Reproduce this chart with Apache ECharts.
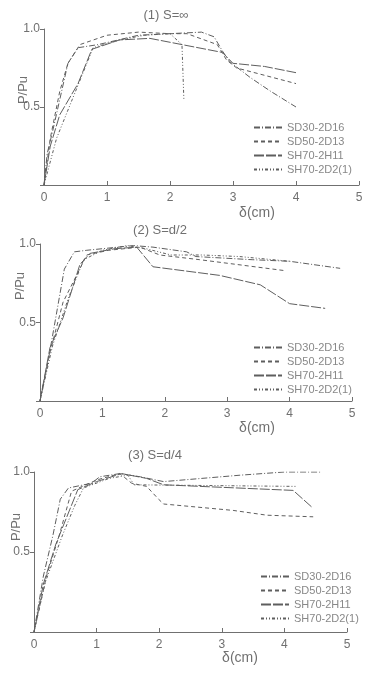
<!DOCTYPE html>
<html>
<head>
<meta charset="utf-8">
<script src="https://cdn.jsdelivr.net/npm/echarts@6/dist/echarts.min.js"></script>
<style>
  html, body { margin: 0; padding: 0; background: #fff; }
  #main { width: 366px; height: 677px; }
</style>
</head>
<body>
<div id="main"></div>
<script>
// 试件名称
const seriesNames = ['SD30-2D16', 'SD50-2D13', 'SH70-2H11', 'SH70-2D2(1)'];
const panelTitles = ['(1) S=∞', '(2) S=d/2', '(3) S=d/4'];
const xTicks = [0, 1, 2, 3, 4, 5];
const yTicks = [0, 0.5, 1.0];

// (1) S=∞  [δ(cm), P/Pu]
const inf_SD30 = [[0,0],[0.05,0.2],[0.14,0.35],[0.38,0.78],[0.54,0.88],[0.86,0.9],[1.5,0.96],[2.0,0.97],[2.5,0.98],[2.7,0.95],[2.83,0.86],[2.95,0.79],[3.27,0.69],[3.6,0.6],[4.0,0.5]];
const inf_SD50 = [[0,0],[0.1,0.3],[0.25,0.6],[0.38,0.78],[0.57,0.9],[1.0,0.96],[1.5,0.98],[2.0,0.97],[2.27,0.97],[2.75,0.9],[2.9,0.8],[3.06,0.75],[4.0,0.65]];
const inf_SH70a = [[0,0],[0.1,0.25],[0.25,0.45],[0.54,0.65],[0.76,0.87],[1.2,0.93],[1.68,0.94],[2.19,0.9],[2.83,0.85],[3.0,0.78],[3.5,0.76],[4.0,0.72]];
const inf_SH70b = [[0,0],[0.2,0.3],[0.45,0.55],[0.78,0.88],[1.2,0.93],[1.6,0.96],[2.0,0.97],[2.19,0.9],[2.22,0.55]];

// (2) S=d/2
const d2_SD30 = [[0,0],[0.15,0.3],[0.39,0.84],[0.55,0.95],[0.75,0.96],[1.0,0.97],[1.5,0.99],[1.81,0.98],[2.35,0.95],[2.5,0.92],[3.4,0.9],[4.0,0.89],[4.81,0.845]];
const d2_SD50 = [[0,0],[0.16,0.31],[0.37,0.63],[0.75,0.93],[1.1,0.96],[1.6,0.98],[1.92,0.93],[2.56,0.9],[3.93,0.83]];
const d2_SH70a = [[0,0],[0.16,0.34],[0.37,0.53],[0.64,0.87],[0.8,0.94],[1.2,0.97],[1.55,0.98],[1.81,0.855],[2.88,0.8],[3.53,0.74],[4.0,0.62],[4.57,0.59]];
const d2_SH70b = [[0,0],[0.2,0.35],[0.45,0.65],[0.7,0.9],[1.0,0.96],[1.4,0.99],[1.7,0.97],[2.1,0.93],[2.6,0.93],[3.2,0.92],[4.0,0.89]];

// (3) S=d/4
const d4_SD30 = [[0,0],[0.15,0.35],[0.3,0.6],[0.42,0.83],[0.55,0.9],[0.92,0.93],[1.05,0.97],[1.37,0.99],[1.7,0.97],[2.07,0.94],[3.29,0.98],[4.0,1.0],[4.57,1.0]];
const d4_SD50 = [[0,0],[0.2,0.35],[0.4,0.6],[0.6,0.88],[1.0,0.95],[1.37,0.99],[1.56,0.93],[1.8,0.91],[1.99,0.83],[2.07,0.8],[3.18,0.76],[3.72,0.73],[4.46,0.72]];
const d4_SH70a = [[0,0],[0.15,0.3],[0.35,0.55],[0.7,0.89],[1.0,0.94],[1.4,0.99],[1.8,0.96],[2.07,0.92],[4.14,0.885],[4.44,0.78]];
const d4_SH70b = [[0,0],[0.18,0.31],[0.45,0.6],[0.65,0.79],[0.79,0.9],[1.2,0.96],[1.5,0.98],[1.6,0.92],[4.2,0.91]];

const panelData = [
  [inf_SD30, inf_SD50, inf_SH70a, inf_SH70b],
  [d2_SD30, d2_SD50, d2_SH70a, d2_SH70b],
  [d4_SD30, d4_SD50, d4_SH70a, d4_SH70b]
];

const ink = '#707070';
const lineInk = '#5e5e5e';
const font = 'Liberation Sans';
const dashes = [[6, 2, 1, 2], [4, 3], [10, 2], [3, 2, 1, 2, 1, 2]];

const grids = [
  { left: 44, top: 29, width: 315, height: 156 },
  { left: 40, top: 244, width: 312, height: 157 },
  { left: 34, top: 472, width: 313, height: 160 }
];

let myChart = echarts.init(document.getElementById('main'), null, { renderer: 'canvas' });

let xAxes = [], yAxes = [], series = [], legends = [];
grids.forEach((g, i) => {
  xAxes.push({
    type: 'value', gridIndex: i, min: xTicks[0], max: xTicks[xTicks.length - 1], interval: 1,
    axisLine: { lineStyle: { color: ink, width: 1 } },
    axisTick: { inside: true, length: 4, lineStyle: { color: ink } },
    axisLabel: { color: ink, fontSize: 12, fontFamily: font, margin: 7 },
    splitLine: { show: false }
  });
  yAxes.push({
    type: 'value', gridIndex: i, min: yTicks[0], max: yTicks[yTicks.length - 1], interval: 0.5,
    axisLine: { show: true, lineStyle: { color: ink, width: 1 } },
    axisTick: { show: true, length: 4, lineStyle: { color: ink } },
    axisLabel: { color: ink, fontSize: 12, fontFamily: font, margin: 4,
      formatter: v => v === 0 ? '' : v.toFixed(1) },
    splitLine: { show: false }
  });
  panelData[i].forEach((d, k) => {
    series.push({
      name: seriesNames[k], type: 'line', xAxisIndex: i, yAxisIndex: i,
      data: d, symbol: 'none', smooth: false, animation: false,
      itemStyle: { color: lineInk },
      lineStyle: { color: lineInk, width: 1, type: dashes[k] }
    });
  });
});

const legendPos = [[253, 122], [253, 342], [260, 571]];
legendPos.forEach(p => {
  legends.push({
    data: seriesNames, orient: 'vertical', left: p[0], top: p[1],
    itemWidth: 28, itemHeight: 10, itemGap: 3, padding: 0,
    itemStyle: { opacity: 0 },
    textStyle: { color: '#888', fontSize: 11, fontFamily: font, lineHeight: 11 }
  });
});

const titlePos = [[166, 15], [160, 230], [155, 455]];
const yNamePos = [[23, 90], [20, 286], [16, 527]];
const xNamePos = [[257, 213], [257, 428], [240, 658]];
let graphics = [];
titlePos.forEach((p, i) => {
  graphics.push({ type: 'text', x: p[0], y: p[1],
    style: { text: panelTitles[i], fill: ink, font: '13px ' + font, textAlign: 'center', textVerticalAlign: 'middle' } });
  graphics.push({ type: 'text', x: yNamePos[i][0], y: yNamePos[i][1], rotation: Math.PI / 2,
    style: { text: 'P/Pu', fill: ink, font: '13px ' + font, textAlign: 'center', textVerticalAlign: 'middle' } });
  graphics.push({ type: 'text', x: xNamePos[i][0], y: xNamePos[i][1],
    style: { text: 'δ(cm)', fill: ink, font: '14px ' + font, textAlign: 'center', textVerticalAlign: 'middle' } });
});

myChart.setOption({
  animation: false,
  backgroundColor: '#fff',
  grid: grids,
  xAxis: xAxes,
  yAxis: yAxes,
  legend: legends,
  graphic: graphics,
  series: series
});
</script>
</body>
</html>
